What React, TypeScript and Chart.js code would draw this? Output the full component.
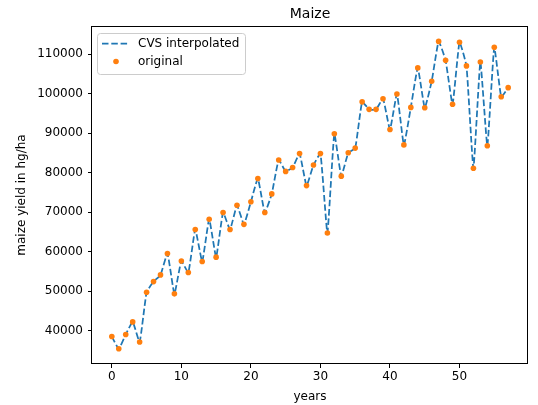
import { useEffect, useRef } from "react";
import { Chart, registerables } from "chart.js";

Chart.register(...registerables);

const years = [
  0, 1, 2, 3, 4, 5, 6, 7, 8, 9, 10, 11, 12, 13, 14, 15, 16, 17, 18, 19,
  20, 21, 22, 23, 24, 25, 26, 27, 28, 29, 30, 31, 32, 33, 34, 35, 36, 37, 38, 39,
  40, 41, 42, 43, 44, 45, 46, 47, 48, 49, 50, 51, 52, 53, 54, 55, 56, 57,
];

const yields = [
  38500, 35400, 39000, 42200, 37100, 49700, 52400, 54100, 59500, 49300,
  57600, 54700, 65600, 57500, 68200, 58600, 69900, 65600, 71700, 66900,
  72600, 78500, 69900, 74600, 83200, 80300, 81300, 84800, 76700, 81900,
  84800, 64700, 89800, 79100, 85000, 86200, 97900, 96000, 96000, 98700,
  90900, 99900, 87000, 96500, 106500, 96400, 103100, 113200, 108400, 97300,
  113000, 107000, 81100, 108000, 86800, 111700, 99200, 101500,
];

const xTicks = [0, 10, 20, 30, 40, 50];
const yTicks = [40000, 50000, 60000, 70000, 80000, 90000, 100000, 110000];

const titleText = "Maize";
const xTitle = "years";
const yTitle = "maize yield in hg/ha";
const lineLabel = "CVS interpolated";
const pointLabel = "original";

const FONT = "'DejaVu Sans', sans-serif";
const BLUE = "#1f77b4";
const ORANGE = "#ff7f0e";
const DASH = [6.5, 2.8];

export default function App() {
  const ref = useRef<HTMLCanvasElement>(null);

  useEffect(() => {
    document.body.style.margin = "0";
    const canvas = ref.current;
    if (!canvas) return;

    const pts = years.map((x, i) => ({ x, y: yields[i] }));

    const decor = {
      id: "decor",
      afterDraw(chart: any) {
        const { ctx, chartArea: a } = chart;
        ctx.save();
        // frame
        ctx.strokeStyle = "#000";
        ctx.lineWidth = 1;
        ctx.setLineDash([]);
        ctx.strokeRect(
          Math.round(a.left) - 0.5,
          Math.round(a.top) + 0.5,
          Math.round(a.right) - Math.round(a.left),
          Math.round(a.bottom) - Math.round(a.top) - 1
        );
        // title
        ctx.fillStyle = "#000";
        ctx.font = `14px ${FONT}`;
        ctx.textAlign = "center";
        ctx.textBaseline = "middle";
        ctx.fillText(titleText, (a.left + a.right) / 2, a.top - 11.5);

        // legend
        const bx = a.left + 5;
        const by = a.top + 7;
        const bw = 148;
        const bh = 41;
        ctx.beginPath();
        if ((ctx as any).roundRect) (ctx as any).roundRect(bx + 0.5, by + 0.5, bw, bh, 3);
        else ctx.rect(bx + 0.5, by + 0.5, bw, bh);
        ctx.fillStyle = "rgba(255,255,255,0.8)";
        ctx.fill();
        ctx.strokeStyle = "#cccccc";
        ctx.lineWidth = 1;
        ctx.stroke();

        const row1 = by + 10.5;
        const row2 = by + 28.5;
        ctx.beginPath();
        ctx.strokeStyle = BLUE;
        ctx.lineWidth = 1.75;
        ctx.setLineDash(DASH);
        ctx.moveTo(bx + 5, row1);
        ctx.lineTo(bx + 31, row1);
        ctx.stroke();
        ctx.setLineDash([]);

        ctx.beginPath();
        ctx.fillStyle = ORANGE;
        ctx.arc(bx + 19, row2, 2.8, 0, Math.PI * 2);
        ctx.fill();

        ctx.fillStyle = "#000";
        ctx.font = `12px ${FONT}`;
        ctx.textAlign = "left";
        ctx.textBaseline = "middle";
        ctx.fillText(lineLabel, bx + 41, row1);
        ctx.fillText(pointLabel, bx + 41, row2);
        ctx.restore();
      },
    };

    const chart = new Chart(canvas, {
      type: "line",
      data: {
        datasets: [
          {
            label: pointLabel,
            data: pts,
            showLine: false,
            pointRadius: 2.8,
            pointHoverRadius: 2.8,
            pointBackgroundColor: ORANGE,
            pointBorderWidth: 0,
            borderColor: ORANGE,
            backgroundColor: ORANGE,
            order: 0,
          },
          {
            label: lineLabel,
            data: pts,
            borderColor: BLUE,
            borderWidth: 1.75,
            borderDash: DASH,
            pointRadius: 0,
            tension: 0.12,
            fill: false,
            order: 1,
          },
        ],
      },
      options: {
        responsive: false,
        animation: false,
        events: [],
        layout: { padding: { top: 26, right: 10, left: 0, bottom: 0 } },
        plugins: {
          legend: { display: false },
          title: { display: false },
          tooltip: { enabled: false },
        },
        scales: {
          x: {
            type: "linear",
            min: -2.85,
            max: 59.85,
            afterFit(scale: any) {
              scale.height = 41;
            },
            afterBuildTicks(scale: any) {
              scale.ticks = xTicks.map((v) => ({ value: v }));
            },
            ticks: {
              font: { family: FONT, size: 12 },
              color: "#000",
              padding: 2,
              maxRotation: 0,
            },
            grid: {
              drawOnChartArea: false,
              drawTicks: true,
              tickLength: 4,
              color: "#000",
              tickColor: "#000",
            },
            border: { display: false },
            title: {
              display: true,
              text: xTitle,
              font: { family: FONT, size: 12 },
              color: "#000",
              padding: { top: 0, bottom: 1 },
            },
          },
          y: {
            type: "linear",
            min: 31550,
            max: 117100,
            afterFit(scale: any) {
              scale.width = 92;
            },
            afterBuildTicks(scale: any) {
              scale.ticks = yTicks.map((v) => ({ value: v }));
            },
            ticks: {
              font: { family: FONT, size: 12 },
              color: "#000",
              padding: 5,
              callback: (v: any) => String(v),
            },
            grid: {
              drawOnChartArea: false,
              drawTicks: true,
              tickLength: 4,
              color: "#000",
              tickColor: "#000",
            },
            border: { display: false },
            title: {
              display: true,
              text: yTitle,
              font: { family: FONT, size: 12 },
              color: "#000",
              padding: { top: 15, bottom: 0 },
            },
          },
        },
      },
      plugins: [decor],
    });

    return () => chart.destroy();
  }, []);

  return (
    <div style={{ width: 538, height: 405 }}>
      <canvas ref={ref} width={538} height={405} />
    </div>
  );
}
